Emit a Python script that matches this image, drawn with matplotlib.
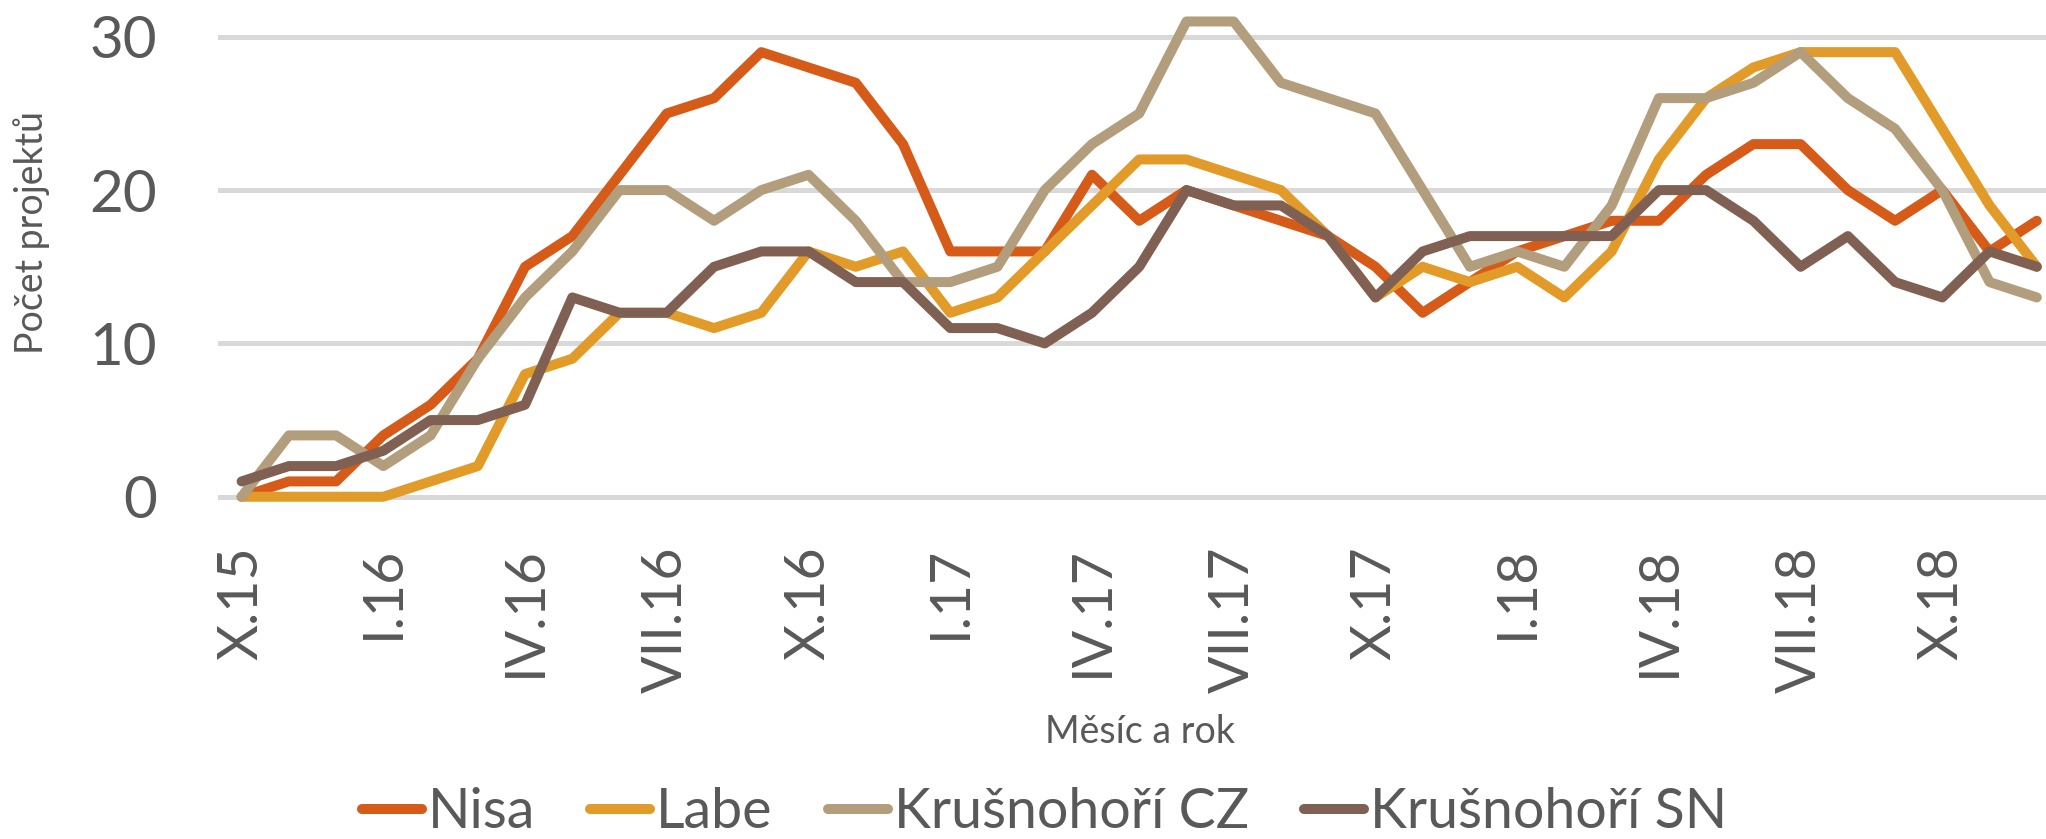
import matplotlib
matplotlib.use("Agg")
import matplotlib.pyplot as plt

# pocet projektu po mesicich, X.2015 - XII.2018
nisa = [0, 1, 1, 4, 6, 9, 15, 17, 21, 25, 26, 29, 28, 27, 23, 16, 16, 16, 21, 18,
        20, 19, 18, 17, 15, 12, 14, 16, 17, 18, 18, 21, 23, 23, 20, 18, 20, 16, 18]
labe = [0, 0, 0, 0, 1, 2, 8, 9, 12, 12, 11, 12, 16, 15, 16, 12, 13, 16, 19, 22,
        22, 21, 20, 17, 13, 15, 14, 15, 13, 16, 22, 26, 28, 29, 29, 29, 24, 19, 15]
krus_cz = [0, 4, 4, 2, 4, 9, 13, 16, 20, 20, 18, 20, 21, 18, 14, 14, 15, 20, 23, 25,
           31, 31, 27, 26, 25, 20, 15, 16, 15, 19, 26, 26, 27, 29, 26, 24, 20, 14, 13]
krus_sn = [1, 2, 2, 3, 5, 5, 6, 13, 12, 12, 15, 16, 16, 14, 14, 11, 11, 10, 12, 15,
           20, 19, 19, 17, 13, 16, 17, 17, 17, 17, 20, 20, 18, 15, 17, 14, 13, 16, 15]

nazvy = ["Nisa", "Labe", "Krušnohoří CZ", "Krušnohoří SN"]
barvy = ["#D65A18", "#E29A28", "#B29D7C", "#806052"]
popisky = ["X.15", "I.16", "IV.16", "VII.16", "X.16", "I.17", "IV.17",
           "VII.17", "X.17", "I.18", "IV.18", "VII.18", "X.18"]

plt.rcParams["font.family"] = ["Lato", "DejaVu Sans"]
seda = "#595959"

W, H = 2046, 839
fig = plt.figure(figsize=(W / 100, H / 100), dpi=100)
ax = fig.add_axes([218 / W, (H - 504.4) / H, 1 - 218 / W, 504.4 / H])

x = list(range(len(nisa)))
for data, nazev, barva in zip([nisa, labe, krus_cz, krus_sn], nazvy, barvy):
    ax.plot(x, data, color=barva, lw=7.2, label=nazev, clip_on=False,
            solid_capstyle="round", solid_joinstyle="round")

ax.set_xlim(-0.5, (W - 241.7) / 47.24)
ax.set_ylim(-0.5, 496.7 / 15.33)
ax.set_yticks([0, 10, 20, 30])
ax.set_xticks(range(0, len(nisa), 3))
ax.set_xticklabels(popisky, rotation=90)
ax.tick_params(axis="y", length=0, pad=44, labelsize=42, labelcolor=seda)
ax.tick_params(axis="x", length=0, pad=30, labelsize=40, labelcolor=seda)
ax.grid(axis="y", color="#D9D9D9", lw=3.6)
ax.set_axisbelow(True)
for s in ax.spines.values():
    s.set_visible(False)

fig.text(1140 / W, (H - 743) / H, "Měsíc a rok", ha="center", va="baseline",
         fontsize=27, color=seda)
fig.text(32 / W, (H - 233) / H, "Počet projektů", ha="center", va="center",
         rotation=90, fontsize=27, color=seda)

fig.legend(loc="center", bbox_to_anchor=(1044.5 / W, (H - 813) / H), ncol=4,
           frameon=False, fontsize=40, labelcolor=seda, handlelength=1.08,
           handletextpad=0.11, columnspacing=0.99, borderpad=0, borderaxespad=0)

fig.savefig("out.png", dpi=100)
